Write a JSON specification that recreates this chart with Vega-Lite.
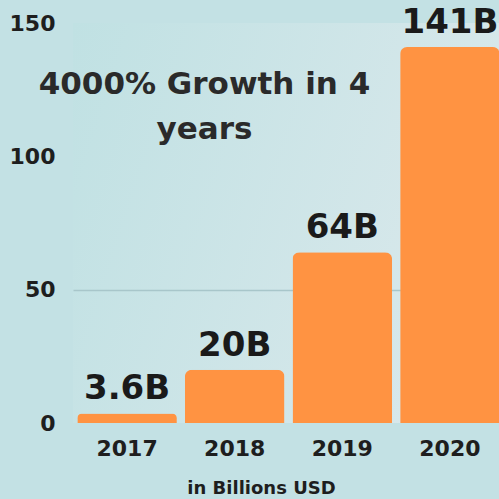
{
  "$schema": "https://vega.github.io/schema/vega-lite/v6.json",
  "width": 431,
  "height": 400,
  "autosize": "none",
  "padding": {"left": 73, "top": 23, "right": 0, "bottom": 76},
  "background": "#C3E1E4",
  "config": {
    "view": {
      "stroke": null,
      "fill": {"gradient": "linear", "x1": 0, "y1": 0, "x2": 1, "y2": 0.3, "stops": [{"offset": 0, "color": "#C0E1E3"}, {"offset": 1, "color": "#D8E8EB"}]}
    },
    "font": "DejaVu Sans"
  },
  "title": {
    "text": ["4000% Growth in 4", "years"],
    "font": "DejaVu Sans",
    "fontSize": 31,
    "fontWeight": "bold",
    "color": "#2a2a2a",
    "anchor": "middle",
    "align": "center",
    "baseline": "top",
    "lineHeight": 45,
    "dx": -84,
    "dy": 144
  },
  "data": {
    "values": [
      {"year": "2017", "value": 3.6, "label": "3.6B"},
      {"year": "2018", "value": 20, "label": "20B"},
      {"year": "2019", "value": 64, "label": "64B"},
      {"year": "2020", "value": 141, "label": "141B"}
    ]
  },
  "encoding": {
    "x": {
      "field": "year",
      "type": "nominal",
      "scale": {"paddingInner": 0.075, "paddingOuter": 0.04},
      "axis": {
        "labelAngle": 0,
        "labelFont": "DejaVu Sans",
        "labelFontSize": 22,
        "labelFontWeight": "bold",
        "labelColor": "#1e1e1e",
        "labelPadding": 15,
        "domain": false,
        "ticks": false,
        "title": "in Billions USD",
        "titleFont": "DejaVu Sans",
        "titleFontSize": 18,
        "titleFontWeight": "bold",
        "titleColor": "#1e1e1e",
        "titlePadding": 20,
        "titleX": 188
      }
    },
    "y": {
      "field": "value",
      "type": "quantitative",
      "scale": {"domain": [0, 150]},
      "axis": {
        "values": [0, 50, 100, 150],
        "labelFont": "DejaVu Sans",
        "labelFontSize": 22,
        "labelFontWeight": "bold",
        "labelColor": "#1e1e1e",
        "labelPadding": 18,
        "domain": false,
        "ticks": false,
        "title": null,
        "grid": true,
        "gridColor": "#A8C6CA",
        "gridWidth": 1.5,
        "gridOpacity": {"condition": {"test": "datum.value == 50", "value": 1}, "value": 0}
      }
    }
  },
  "layer": [
    {
      "mark": {"type": "bar", "color": "#FF9342", "cornerRadiusTopLeft": 7, "cornerRadiusTopRight": 7}
    },
    {
      "mark": {"type": "text", "baseline": "bottom", "dy": -7, "font": "DejaVu Sans", "fontSize": 34, "fontWeight": "bold", "color": "#1a1a1a"},
      "encoding": {"text": {"field": "label"}}
    }
  ]
}
